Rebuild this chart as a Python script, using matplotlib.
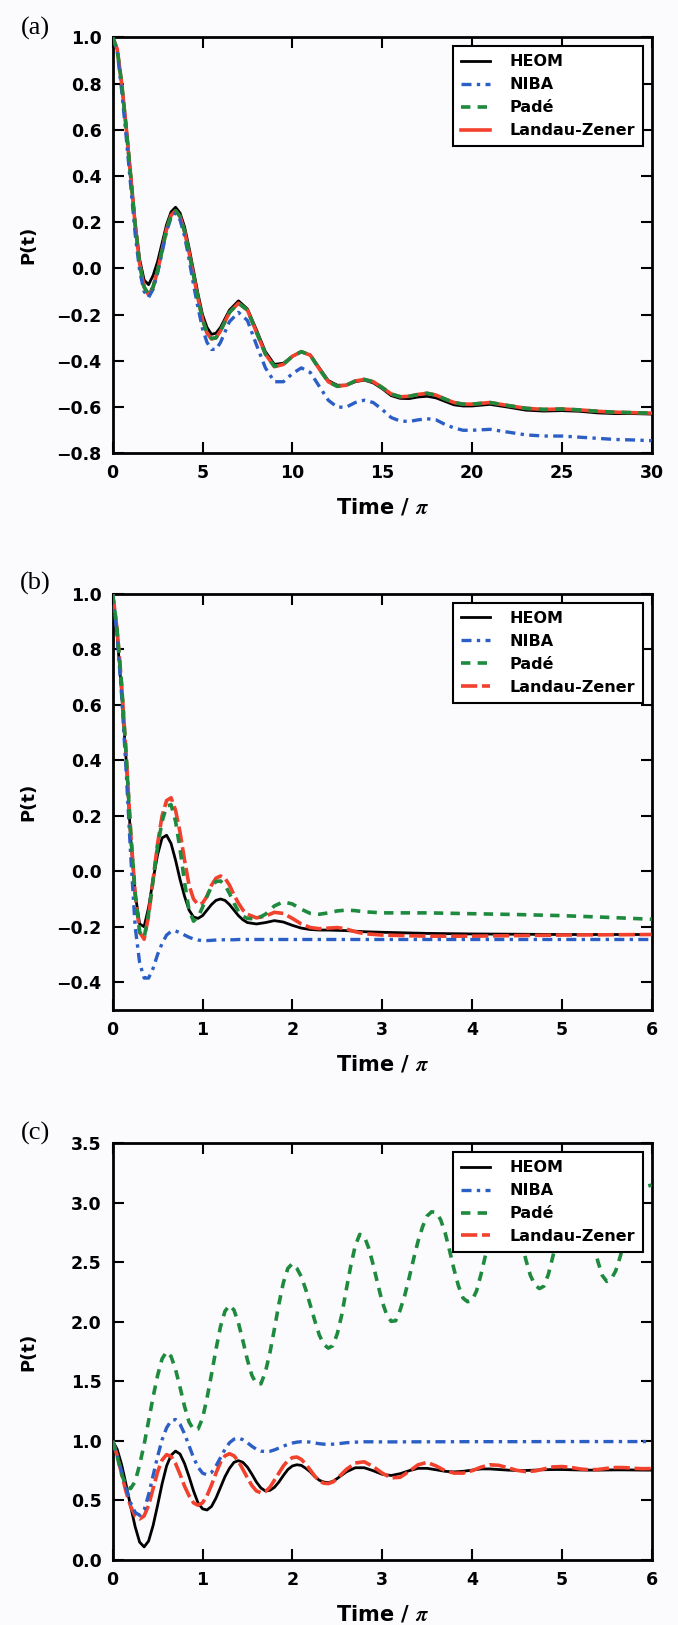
import matplotlib
matplotlib.use("Agg")
import matplotlib.pyplot as plt

plt.rcParams['font.family'] = ['DejaVu Sans']
plt.rcParams['font.weight'] = 'bold'
plt.rcParams['mathtext.fontset'] = 'stix'

# ---------------- panel (a) ----------------
t_a = [0, 0.25, 0.5, 0.75, 1.0, 1.25, 1.5, 1.75, 2.0, 2.25, 2.5, 2.75, 3.0, 3.25, 3.5,
       3.75, 4.0, 4.25, 4.5, 4.75, 5.0, 5.25, 5.5, 5.75, 6.0, 6.5, 7.0, 7.5, 8.0, 8.5,
       9.0, 9.5, 10.0, 10.5, 11.0, 11.5, 12.0, 12.5, 13.0, 13.5, 14.0, 14.5, 15.0, 15.5,
       16.0, 16.5, 17.0, 17.5, 18.0, 18.5, 19.0, 19.5, 20.0, 21, 22, 23, 24, 25, 26, 27,
       28, 29, 30]
heom_a = [1.0, 0.95, 0.80, 0.62, 0.41, 0.20, 0.04, -0.05, -0.07, -0.03, 0.03, 0.11, 0.19,
          0.245, 0.265, 0.24, 0.18, 0.09, -0.01, -0.11, -0.20, -0.255, -0.285, -0.28, -0.255,
          -0.18, -0.14, -0.175, -0.265, -0.36, -0.415, -0.41, -0.38, -0.36, -0.375, -0.43,
          -0.485, -0.505, -0.505, -0.49, -0.483, -0.495, -0.52, -0.55, -0.562, -0.563, -0.556,
          -0.553, -0.56, -0.575, -0.59, -0.595, -0.595, -0.588, -0.60, -0.613, -0.617, -0.615,
          -0.618, -0.625, -0.628, -0.628, -0.63]
niba_a = [1.0, 0.94, 0.77, 0.57, 0.36, 0.15, -0.01, -0.10, -0.125, -0.09, -0.02, 0.07, 0.16,
          0.22, 0.24, 0.21, 0.14, 0.04, -0.07, -0.17, -0.26, -0.32, -0.35, -0.35, -0.32,
          -0.23, -0.19, -0.225, -0.33, -0.43, -0.49, -0.49, -0.455, -0.43, -0.45, -0.51,
          -0.57, -0.60, -0.60, -0.58, -0.57, -0.58, -0.61, -0.645, -0.66, -0.662, -0.655,
          -0.65, -0.655, -0.675, -0.69, -0.70, -0.70, -0.696, -0.708, -0.72, -0.725, -0.725,
          -0.73, -0.735, -0.74, -0.742, -0.745]
pade_a = [1.0, 0.95, 0.80, 0.61, 0.40, 0.19, 0.02, -0.08, -0.112, -0.08, -0.01, 0.08, 0.17,
          0.23, 0.25, 0.225, 0.16, 0.07, -0.03, -0.13, -0.22, -0.28, -0.303, -0.30, -0.27,
          -0.19, -0.15, -0.18, -0.275, -0.37, -0.423, -0.415, -0.38, -0.36, -0.375, -0.435,
          -0.49, -0.51, -0.505, -0.487, -0.48, -0.49, -0.515, -0.543, -0.555, -0.553, -0.545,
          -0.54, -0.548, -0.565, -0.58, -0.587, -0.587, -0.58, -0.593, -0.605, -0.61, -0.608,
          -0.612, -0.618, -0.622, -0.624, -0.626]
lz_a = [1.0, 0.95, 0.80, 0.61, 0.40, 0.19, 0.02, -0.08, -0.115, -0.08, -0.01, 0.08, 0.17,
        0.23, 0.25, 0.225, 0.16, 0.07, -0.03, -0.13, -0.22, -0.28, -0.305, -0.30, -0.27,
        -0.19, -0.15, -0.18, -0.275, -0.37, -0.425, -0.415, -0.38, -0.36, -0.375, -0.435,
        -0.49, -0.51, -0.505, -0.487, -0.48, -0.49, -0.515, -0.543, -0.555, -0.553, -0.545,
        -0.54, -0.548, -0.565, -0.58, -0.587, -0.587, -0.58, -0.593, -0.605, -0.61, -0.608,
        -0.612, -0.618, -0.622, -0.624, -0.626]

# ---------------- panel (b) ----------------
t_b = [0, 0.05, 0.1, 0.15, 0.2, 0.25, 0.3, 0.35, 0.4, 0.45, 0.5, 0.55, 0.6, 0.65, 0.7,
       0.75, 0.8, 0.85, 0.9, 0.95, 1.0, 1.05, 1.1, 1.15, 1.2, 1.25, 1.3, 1.35, 1.4, 1.45,
       1.5, 1.6, 1.7, 1.8, 1.9, 2.0, 2.1, 2.2, 2.3, 2.4, 2.5, 2.6, 2.7, 2.8, 3.0, 3.25,
       3.5, 4.0, 4.5, 5.0, 5.5, 6.0]
heom_b = [1.0, 0.85, 0.64, 0.40, 0.12, -0.08, -0.19, -0.20, -0.13, -0.03, 0.06, 0.12, 0.13,
          0.10, 0.04, -0.03, -0.09, -0.14, -0.165, -0.17, -0.16, -0.14, -0.12, -0.105, -0.10,
          -0.105, -0.12, -0.14, -0.16, -0.175, -0.185, -0.19, -0.185, -0.178, -0.183, -0.195,
          -0.205, -0.21, -0.212, -0.212, -0.213, -0.214, -0.216, -0.218, -0.22, -0.222,
          -0.224, -0.226, -0.227, -0.228, -0.228, -0.228]
niba_b = [1.0, 0.85, 0.63, 0.36, 0.06, -0.20, -0.33, -0.385, -0.385, -0.35, -0.30, -0.26,
          -0.23, -0.217, -0.215, -0.222, -0.23, -0.238, -0.244, -0.248, -0.25, -0.25, -0.249,
          -0.248, -0.247, -0.247, -0.247, -0.247, -0.246, -0.246, -0.246, -0.246, -0.246,
          -0.246, -0.246, -0.246, -0.246, -0.246, -0.246, -0.246, -0.246, -0.246, -0.246,
          -0.246, -0.246, -0.246, -0.246, -0.246, -0.246, -0.246, -0.246, -0.246]
pade_b = [1.0, 0.87, 0.67, 0.42, 0.14, -0.08, -0.22, -0.24, -0.15, -0.03, 0.09, 0.18, 0.235,
          0.24, 0.18, 0.08, -0.04, -0.14, -0.18, -0.165, -0.13, -0.09, -0.055, -0.037, -0.035,
          -0.05, -0.08, -0.115, -0.145, -0.162, -0.17, -0.172, -0.155, -0.125, -0.11, -0.118,
          -0.137, -0.152, -0.155, -0.15, -0.143, -0.14, -0.142, -0.146, -0.15, -0.15, -0.15,
          -0.153, -0.156, -0.16, -0.166, -0.173]
lz_b = [1.0, 0.87, 0.67, 0.42, 0.14, -0.08, -0.22, -0.245, -0.16, -0.03, 0.10, 0.20, 0.255,
        0.265, 0.22, 0.14, 0.04, -0.05, -0.10, -0.12, -0.115, -0.09, -0.05, -0.025, -0.017,
        -0.025, -0.05, -0.085, -0.115, -0.14, -0.155, -0.168, -0.162, -0.148, -0.152, -0.17,
        -0.19, -0.203, -0.207, -0.205, -0.203, -0.208, -0.218, -0.225, -0.23, -0.232, -0.234,
        -0.234, -0.232, -0.23, -0.229, -0.228]

# ---------------- panel (c) ----------------
t_c = [0, 0.05, 0.1, 0.15, 0.2, 0.25, 0.3, 0.35, 0.4, 0.45, 0.5, 0.55, 0.6, 0.65, 0.7,
       0.75, 0.8, 0.85, 0.9, 0.95, 1.0, 1.05, 1.1, 1.15, 1.2, 1.25, 1.3, 1.35, 1.4, 1.45,
       1.5, 1.55, 1.6, 1.65, 1.7, 1.75, 1.8, 1.85, 1.9, 1.95, 2.0, 2.05, 2.1, 2.15, 2.2,
       2.25, 2.3, 2.35, 2.4, 2.45, 2.5, 2.6, 2.7, 2.8, 2.9, 3.0, 3.1, 3.2, 3.3, 3.4, 3.5,
       3.6, 3.7, 3.8, 3.9, 4.0, 4.1, 4.2, 4.3, 4.4, 4.5, 4.6, 4.7, 4.8, 4.9, 5.0, 5.1, 5.2,
       5.3, 5.4, 5.5, 5.6, 5.7, 5.8, 5.9, 6.0]
heom_c = [1.0, 0.93, 0.80, 0.63, 0.45, 0.28, 0.15, 0.11, 0.16, 0.29, 0.46, 0.64, 0.79, 0.88,
          0.915, 0.89, 0.81, 0.70, 0.58, 0.48, 0.43, 0.42, 0.45, 0.52, 0.61, 0.70, 0.77, 0.82,
          0.835, 0.82, 0.78, 0.72, 0.655, 0.605, 0.58, 0.585, 0.61, 0.655, 0.71, 0.76, 0.79,
          0.80, 0.795, 0.77, 0.74, 0.70, 0.67, 0.655, 0.65, 0.66, 0.685, 0.74, 0.775, 0.775,
          0.75, 0.72, 0.71, 0.725, 0.75, 0.77, 0.77, 0.758, 0.745, 0.74, 0.745, 0.755, 0.765,
          0.765, 0.76, 0.755, 0.752, 0.752, 0.755, 0.758, 0.76, 0.76, 0.758, 0.756, 0.755,
          0.755, 0.756, 0.757, 0.757, 0.756, 0.755, 0.755]
lz_c = [1.0, 0.88, 0.72, 0.57, 0.45, 0.37, 0.345, 0.37, 0.46, 0.60, 0.74, 0.84, 0.885, 0.87,
        0.81, 0.72, 0.62, 0.54, 0.48, 0.46, 0.48, 0.54, 0.63, 0.73, 0.82, 0.875, 0.893, 0.875,
        0.83, 0.76, 0.69, 0.625, 0.58, 0.565, 0.575, 0.61, 0.67, 0.73, 0.79, 0.835, 0.86,
        0.865, 0.845, 0.805, 0.755, 0.705, 0.665, 0.645, 0.642, 0.655, 0.685, 0.76, 0.815,
        0.825, 0.785, 0.73, 0.69, 0.695, 0.745, 0.80, 0.82, 0.79, 0.75, 0.73, 0.73, 0.75,
        0.78, 0.80, 0.795, 0.775, 0.753, 0.742, 0.748, 0.765, 0.782, 0.785, 0.778, 0.765,
        0.758, 0.76, 0.77, 0.777, 0.776, 0.77, 0.767, 0.768]

t_niba_c = [0, 0.05, 0.1, 0.15, 0.2, 0.25, 0.3, 0.35, 0.4, 0.45, 0.5, 0.55, 0.6, 0.65, 0.7,
            0.75, 0.8, 0.85, 0.9, 0.95, 1.0, 1.05, 1.1, 1.15, 1.2, 1.25, 1.3, 1.35, 1.4,
            1.45, 1.5, 1.55, 1.6, 1.65, 1.7, 1.75, 1.8, 1.85, 1.9, 1.95, 2.0, 2.05, 2.1,
            2.15, 2.2, 2.25, 2.3, 2.35, 2.4, 2.45, 2.5, 2.6, 2.7, 2.8, 2.9, 3.0, 3.5, 4.0,
            4.5, 5.0, 5.5, 6.0]
niba_c = [1.0, 0.88, 0.74, 0.60, 0.48, 0.40, 0.375, 0.42, 0.55, 0.71, 0.87, 1.01, 1.11, 1.17,
          1.18, 1.14, 1.06, 0.96, 0.86, 0.78, 0.73, 0.715, 0.735, 0.79, 0.86, 0.93, 0.985,
          1.015, 1.025, 1.01, 0.985, 0.955, 0.93, 0.915, 0.91, 0.913, 0.925, 0.94, 0.957,
          0.97, 0.982, 0.99, 0.994, 0.994, 0.99, 0.983, 0.977, 0.973, 0.972, 0.973, 0.976,
          0.985, 0.99, 0.993, 0.993, 0.992, 0.993, 0.994, 0.994, 0.995, 0.995, 0.995]

t_pade_c = [0, 0.05, 0.1, 0.15, 0.2, 0.25, 0.3, 0.35, 0.4, 0.45, 0.5, 0.55, 0.6, 0.65, 0.7,
            0.75, 0.8, 0.85, 0.9, 0.95, 1.0, 1.05, 1.1, 1.15, 1.2, 1.25, 1.3, 1.35, 1.4,
            1.45, 1.5, 1.55, 1.6, 1.65, 1.7, 1.75, 1.8, 1.85, 1.9, 1.95, 2.0, 2.05, 2.1,
            2.15, 2.2, 2.25, 2.3, 2.35, 2.4, 2.45, 2.5, 2.55, 2.6, 2.65, 2.7, 2.75, 2.8,
            2.85, 2.9, 2.95, 3.0, 3.05, 3.1, 3.15, 3.2, 3.25, 3.3, 3.35, 3.4, 3.45, 3.5,
            3.55, 3.6, 3.65, 3.7, 3.75, 3.8, 3.85, 3.9, 3.95, 4.0, 4.05, 4.1, 4.15, 4.2,
            4.25, 4.3, 4.35, 4.4, 4.45, 4.5, 4.55, 4.6, 4.65, 4.7, 4.75, 4.8, 4.85, 4.9,
            4.95, 5.0, 5.05, 5.1, 5.15, 5.2, 5.25, 5.3, 5.35, 5.4, 5.45, 5.5, 5.55, 5.6,
            5.65, 5.7, 5.75, 5.8, 5.85, 5.9, 5.95, 6.0]
pade_c = [1.0, 0.87, 0.72, 0.62, 0.60, 0.66, 0.80, 0.97, 1.17, 1.37, 1.55, 1.69, 1.75, 1.71,
          1.60, 1.45, 1.29, 1.16, 1.095, 1.10, 1.19, 1.36, 1.56, 1.77, 1.96, 2.09, 2.14, 2.10,
          1.99, 1.84, 1.68, 1.55, 1.48, 1.48, 1.58, 1.74, 1.94, 2.15, 2.33, 2.45, 2.49, 2.45,
          2.38, 2.27, 2.14, 2.01, 1.89, 1.81, 1.78, 1.80, 1.90, 2.06, 2.27, 2.47, 2.64, 2.735,
          2.72, 2.62, 2.48, 2.32, 2.17, 2.06, 2.005, 2.01, 2.10, 2.22, 2.37, 2.53, 2.68, 2.80,
          2.89, 2.925, 2.92, 2.86, 2.75, 2.60, 2.44, 2.30, 2.20, 2.17, 2.18, 2.26, 2.40, 2.56,
          2.73, 2.88, 2.98, 3.03, 3.03, 2.96, 2.83, 2.68, 2.52, 2.39, 2.31, 2.28, 2.30, 2.40,
          2.55, 2.72, 2.88, 3.01, 3.08, 3.10, 3.07, 2.97, 2.83, 2.67, 2.51, 2.39, 2.34, 2.36,
          2.43, 2.55, 2.70, 2.85, 2.98, 3.07, 3.12, 3.14, 3.15]

labels = ['HEOM', 'NIBA', 'Padé', 'Landau-Zener']
c_heom = '#000000'
c_niba = '#2c5fc6'
c_pade = '#1e8a3e'
c_lz = '#f2412c'
bg = '#fbfbfd'

fig = plt.figure(figsize=(6.78, 16.25), dpi=100, facecolor=bg)

panels = [
    dict(rect=[0.1662, 0.7210, 0.795, 0.2560], letter='(a)', ly=28,
         data=[(t_a, heom_a), (t_a, niba_a), (t_a, pade_a), (t_a, lz_a)],
         xlim=(0, 30), xticks=[0, 5, 10, 15, 20, 25, 30],
         ylim=(-0.8, 1.0), yticks=[-0.8, -0.6, -0.4, -0.2, 0.0, 0.2, 0.4, 0.6, 0.8, 1.0],
         lz_ls='-'),
    dict(rect=[0.1662, 0.3785, 0.795, 0.2560], letter='(b)', ly=583,
         data=[(t_b, heom_b), (t_b, niba_b), (t_b, pade_b), (t_b, lz_b)],
         xlim=(0, 6), xticks=[0, 1, 2, 3, 4, 5, 6],
         ylim=(-0.5, 1.0), yticks=[-0.4, -0.2, 0.0, 0.2, 0.4, 0.6, 0.8, 1.0],
         lz_ls=(0, (4.5, 1.3))),
    dict(rect=[0.1662, 0.0400, 0.795, 0.2564], letter='(c)', ly=1133,
         data=[(t_c, heom_c), (t_niba_c, niba_c), (t_pade_c, pade_c), (t_c, lz_c)],
         xlim=(0, 6), xticks=[0, 1, 2, 3, 4, 5, 6],
         ylim=(0, 3.5), yticks=[0.0, 0.5, 1.0, 1.5, 2.0, 2.5, 3.0, 3.5],
         lz_ls=(0, (4.5, 1.3))),
]

for p in panels:
    ax = fig.add_axes(p['rect'])
    ax.set_facecolor(bg)
    (th, yh), (tn, yn), (tp, yp), (tl, yl) = p['data']
    h1, = ax.plot(th, yh, color=c_heom, lw=2.0, ls='-', zorder=2)
    h4, = ax.plot(tl, yl, color=c_lz, lw=2.6, ls=p['lz_ls'], zorder=3)
    h2, = ax.plot(tn, yn, color=c_niba, lw=2.4, ls=(0, (3.0, 1.6, 1.0, 1.6)), zorder=4)
    h3, = ax.plot(tp, yp, color=c_pade, lw=2.6, ls=(0, (2.6, 2.0)), zorder=5)

    ax.set_xlim(*p['xlim'])
    ax.set_ylim(*p['ylim'])
    ax.set_xticks(p['xticks'])
    ax.set_yticks(p['yticks'])
    ax.tick_params(direction='in', top=True, right=True, length=8, width=1.5,
                   labelsize=12.5, pad=8)
    for lab in ax.get_xticklabels() + ax.get_yticklabels():
        lab.set_fontweight('bold')
    for s in ax.spines.values():
        s.set_linewidth(2.0)

    xl = ax.set_xlabel('Time / $\\pi$', fontsize=15, fontweight='bold')
    ax.xaxis.set_label_coords(0.5, -0.13)
    xl.set_va('center')
    yl_ = ax.set_ylabel('P(t)', fontsize=13, fontweight='bold')
    ax.yaxis.set_label_coords(-0.157, 0.5)
    yl_.set_va('center')

    leg = ax.legend([h1, h2, h3, h4], labels, loc='upper right',
                    prop={'weight': 'bold', 'size': 11.5}, fancybox=False,
                    framealpha=1.0, edgecolor='black', borderaxespad=0.55,
                    handlelength=1.8, handletextpad=1.2, labelspacing=0.5,
                    borderpad=0.5)
    leg.get_frame().set_linewidth(1.5)
    leg.set_zorder(10)

    fig.text(35 / 678, 1 - p['ly'] / 1625, p['letter'], fontfamily='Liberation Serif',
             fontweight='normal', fontsize=19, ha='center', va='center')

fig.savefig('out.png', dpi=100, facecolor=bg)
